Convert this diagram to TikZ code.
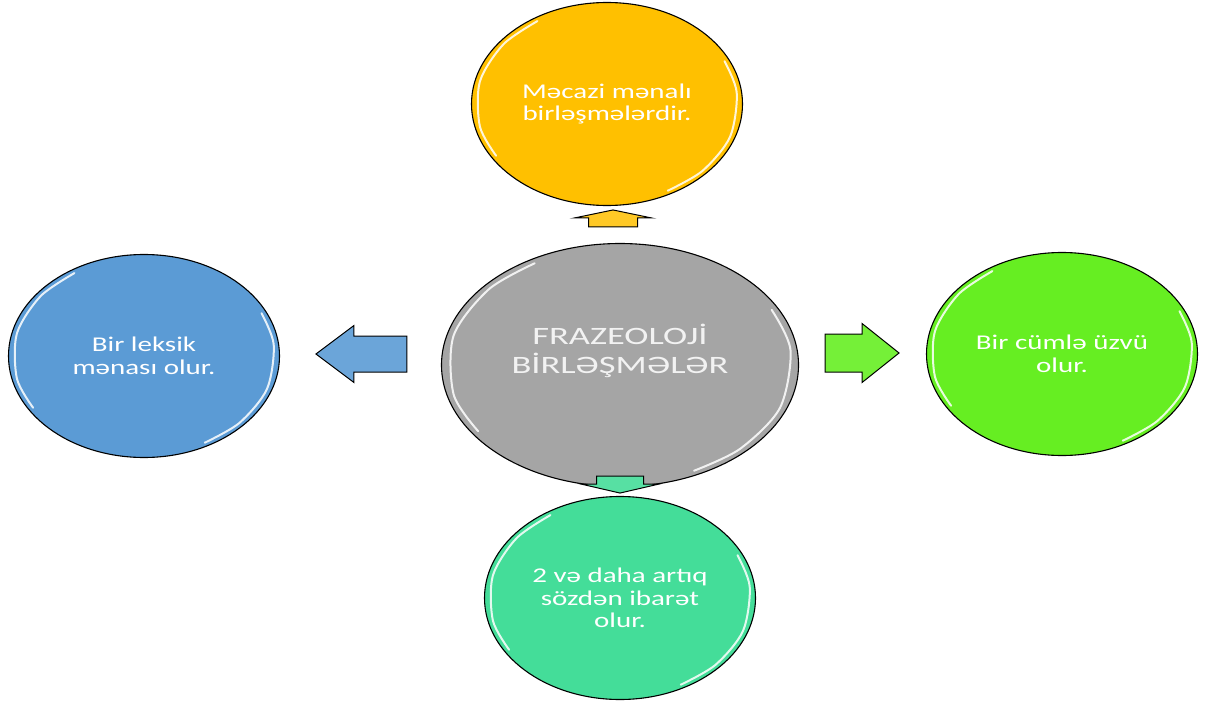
\documentclass[tikz,border=0pt]{standalone}
\usepackage{fontspec}
\setmainfont{Carlito}[FakeStretch=1.38]
\newfontfamily\widefont{Carlito}[FakeStretch=1.46]
\usetikzlibrary{shapes.geometric}
\usetikzlibrary{calc}

\definecolor{ballgray}{HTML}{A5A5A5}
\definecolor{ballgold}{HTML}{FFC000}
\definecolor{ballblue}{HTML}{5B9BD5}
\definecolor{ballgreen}{HTML}{66EE22}
\definecolor{ballteal}{HTML}{44DD99}

\tikzset{
  pics/blockarrow/.style args={#1/#2/#3/#4}{
    code={\path[pic actions] (0,-#3) -- ({#1-#2},-#3) -- ({#1-#2},-#4) -- (#1,0)
      -- ({#1-#2},#4) -- ({#1-#2},#3) -- (0,#3) -- cycle;}
  }
}

\begin{document}
\begin{tikzpicture}[x=1pt,y=-1pt,
  ball/.style={ellipse,draw=black,line width=1.1pt,inner sep=0pt,align=center,
    text=white,font=\fontsize{21}{22.5}\selectfont,
    minimum width=271pt,minimum height=203pt},
  shine/.style={white,line width=2pt,opacity=0.85,line cap=round},
  arrowbox/.style={draw=black,line width=1pt}]
\useasboundingbox (0,0) rectangle (1205,701);

\node[ball,fill=ballgray,minimum width=357pt,minimum height=243pt,text depth=32pt,
  font=\widefont\fontsize{25}{29}\selectfont,text=white!95!black] (centre) at (620,365)
  {FRAZEOLOJİ\\BİRLƏŞMƏLƏR};
\node[ball,fill=ballgold] (top) at (607,104) {Məcazi mənalı\\birləşmələrdir.};
\node[ball,fill=ballblue] (left) at (144,356) {Bir leksik\\mənası olur.};
\node[ball,fill=ballgreen] (right) at (1062,354) {Bir cümlə üzvü\\olur.};
\node[ball,fill=ballteal] (bottom) at (620,598) {2 və daha artıq\\sözdən ibarət\\olur.};

% glossy edges
\foreach \n in {centre,top,left,right,bottom}{
  \draw[shine] plot[smooth] coordinates {($(\n.center)!.96!(\n.130)$) ($(\n.center)!.96!(\n.150)$)
    ($(\n.center)!.96!(\n.170)$) ($(\n.center)!.96!(\n.190)$) ($(\n.center)!.96!(\n.205)$)};
  \draw[shine] plot[smooth] coordinates {($(\n.center)!.96!(\n.-55)$) ($(\n.center)!.96!(\n.-35)$)
    ($(\n.center)!.96!(\n.-15)$) ($(\n.center)!.96!(\n.5)$) ($(\n.center)!.96!(\n.20)$)};
}

% block arrows
\pic[arrowbox,fill=ballgold!85!white,rotate=90] at ($(centre.north)+(-7,-16)$) {blockarrow=17/8/24.5/38.5};
\pic[arrowbox,fill=ballteal!90!white,rotate=-90] at ($(centre.south)+(0,-11)$) {blockarrow=17/9/23.5/39};
\pic[arrowbox,fill=ballblue!90!white,rotate=180] at ($(centre.west)+(-34,-11)$) {blockarrow=91/38/18/28.5};
\pic[arrowbox,fill=ballgreen!90!white] at ($(centre.east)+(26,-12)$) {blockarrow=74/37/19/29.5};
\end{tikzpicture}
\end{document}
